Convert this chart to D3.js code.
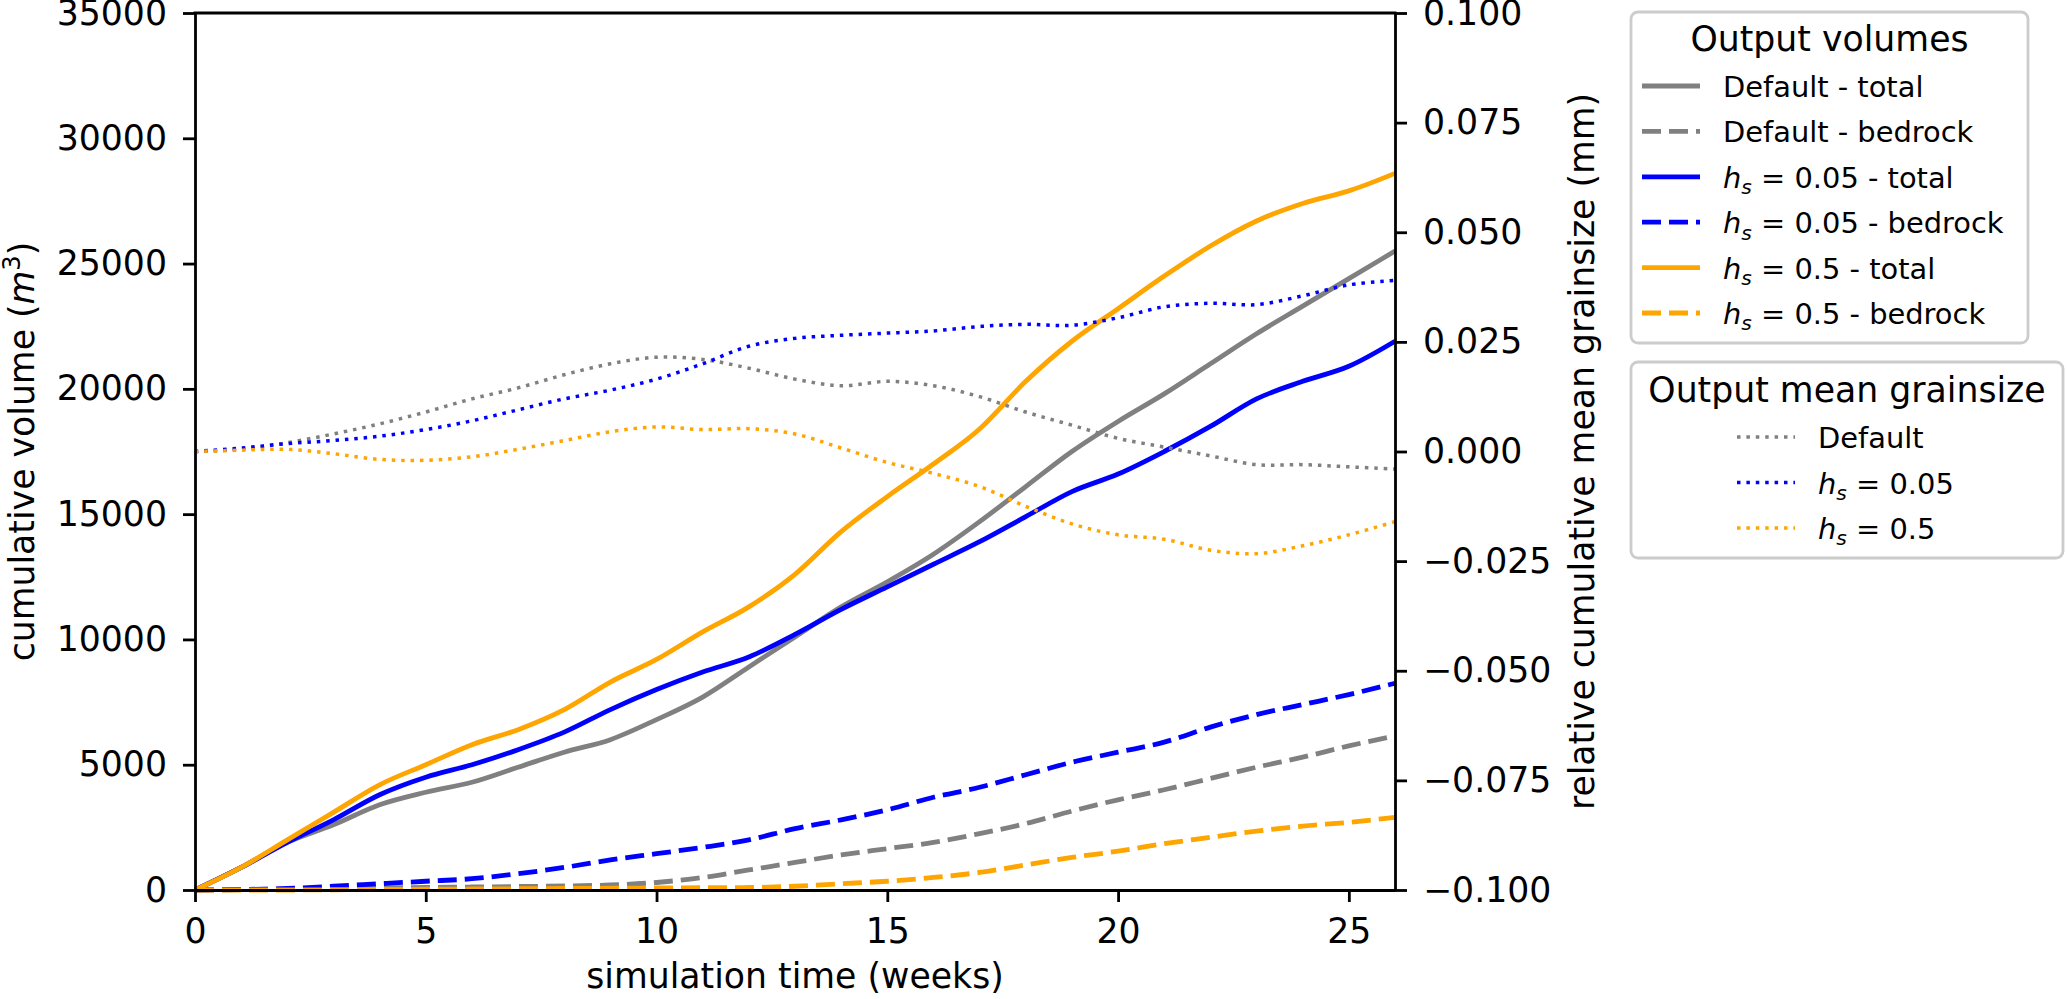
<!DOCTYPE html>
<html>
<head>
<meta charset="utf-8">
<script src="https://cdn.jsdelivr.net/npm/d3@7"></script>
<style>
  body { margin: 0; background: #fff; }
  svg { font-family: "DejaVu Sans", sans-serif; }
  text, tspan { white-space: pre; }
</style>
</head>
<body>
<svg id="canvas" width="2067" height="999"></svg>
<script>
let weeks = [0, 1, 2, 3, 4, 5, 6, 7, 8, 9, 10, 11, 12, 13, 14, 15, 16, 17, 18, 19, 20, 21, 22, 23, 24, 25, 26]

let defaultTotal = [0, 900, 1900, 2600, 3400, 3900, 4300, 4900, 5500, 6000, 6800, 7700, 8900, 10100, 11300, 12300, 13400, 14700, 16100, 17500, 18700, 19800, 21000, 22200, 23300, 24400, 25500]
let defaultBedrock = [0, 20, 40, 60, 80, 100, 120, 140, 160, 200, 300, 500, 800, 1100, 1400, 1650, 1900, 2250, 2650, 3150, 3600, 4000, 4450, 4900, 5300, 5750, 6150]
let hs005Total = [0, 900, 1900, 2800, 3800, 4500, 5000, 5600, 6300, 7200, 8000, 8700, 9300, 10200, 11200, 12100, 13000, 13900, 14900, 15900, 16600, 17500, 18500, 19600, 20300, 20900, 21900]
let hs005Bedrock = [0, 20, 60, 150, 250, 350, 450, 650, 900, 1200, 1450, 1700, 2000, 2450, 2800, 3200, 3700, 4100, 4600, 5100, 5500, 5900, 6500, 7000, 7400, 7800, 8250]
let hs05Total = [0, 900, 2000, 3100, 4200, 5000, 5800, 6400, 7200, 8300, 9200, 10300, 11300, 12600, 14300, 15700, 17000, 18400, 20300, 21900, 23200, 24500, 25700, 26700, 27400, 27900, 28600]
let hs05Bedrock = [0, 0, 0, 10, 20, 30, 40, 50, 60, 70, 80, 90, 100, 150, 250, 350, 500, 700, 1000, 1300, 1550, 1850, 2100, 2350, 2550, 2700, 2900]

let defaultGrain = [0, 0.0005, 0.002, 0.004, 0.0063, 0.009, 0.012, 0.0145, 0.0175, 0.020, 0.0215, 0.021, 0.019, 0.0165, 0.015, 0.016, 0.015, 0.0125, 0.009, 0.006, 0.003, 0.001, -0.001, -0.003, -0.003, -0.0035, -0.004]
let hs005Grain = [0, 0.0008, 0.0018, 0.0025, 0.0035, 0.005, 0.007, 0.0095, 0.012, 0.014, 0.0165, 0.020, 0.024, 0.0258, 0.0265, 0.027, 0.0275, 0.0285, 0.029, 0.0288, 0.0305, 0.033, 0.0338, 0.0335, 0.0355, 0.038, 0.039]
let hs05Grain = [0, 0.0003, 0.0005, -0.0005, -0.0018, -0.002, -0.0012, 0.0005, 0.0025, 0.0045, 0.0056, 0.005, 0.0052, 0.004, 0.0008, -0.0025, -0.005, -0.008, -0.0125, -0.0165, -0.019, -0.020, -0.0225, -0.0233, -0.0215, -0.019, -0.016]

let volumeLabels = ['Default - total', 'Default - bedrock', 'h_s = 0.05 - total', 'h_s = 0.05 - bedrock', 'h_s = 0.5 - total', 'h_s = 0.5 - bedrock']
let grainLabels = ['Default', 'h_s = 0.05', 'h_s = 0.5']

let xTicks = [0, 5, 10, 15, 20, 25]
let volumeTicks = [0, 5000, 10000, 15000, 20000, 25000, 30000, 35000]
let grainTicks = [-0.1, -0.075, -0.05, -0.025, 0, 0.025, 0.05, 0.075, 0.1]

let volumeData = [defaultTotal, defaultBedrock, hs005Total, hs005Bedrock, hs05Total, hs05Bedrock]
let grainData = [defaultGrain, hs005Grain, hs05Grain]

// styles
let volumeColors = ['grey', 'grey', 'blue', 'blue', 'orange', 'orange']
let volumeDash = [null, '19,8', null, '19,8', null, '19,8']
let grainColors = ['grey', 'blue', 'orange']
let grainDash = '3.5,5.9'

let fontSize = 34.7
let legendSize = 28.9
let spine = 2.8

let canvas = d3.select('#canvas')

let plotLeft = 195, plotRight = 1395, plotTop = 13, plotBottom = 890

let xScale = d3.scaleLinear().domain([0, 26]).range([plotLeft, plotRight])
let yScale = d3.scaleLinear().domain([0, 35000]).range([plotBottom, plotTop])
let y2Scale = d3.scaleLinear().domain([-0.1, 0.1]).range([plotBottom, plotTop])

let volumeLine = d3.line()
    .x((d, i) => xScale(weeks[i]))
    .y((d) => yScale(d))
    .curve(d3.curveMonotoneX)

let grainLine = d3.line()
    .x((d, i) => xScale(weeks[i]))
    .y((d) => y2Scale(d))
    .curve(d3.curveCatmullRom)

canvas.append('g')
    .selectAll('path')
    .data(volumeData)
    .enter()
    .append('path')
    .attr('d', (d) => volumeLine(d))
    .attr('fill', 'none')
    .attr('stroke', (d, i) => volumeColors[i])
    .attr('stroke-width', 4.8)
    .attr('stroke-dasharray', (d, i) => volumeDash[i])

canvas.append('g')
    .selectAll('path')
    .data(grainData)
    .enter()
    .append('path')
    .attr('d', (d) => grainLine(d))
    .attr('fill', 'none')
    .attr('stroke', (d, i) => grainColors[i])
    .attr('stroke-width', 3.5)
    .attr('stroke-dasharray', grainDash)

let styleAxis = (g) => {
    g.attr('font-size', fontSize).attr('font-family', '"DejaVu Sans", sans-serif')
    g.selectAll('line').attr('stroke-width', spine)
    g.select('.domain').attr('stroke-width', spine)
}

canvas.append('g')
    .attr('transform', 'translate(0,' + plotBottom + ')')
    .call(d3.axisBottom(xScale).tickValues(xTicks).tickSize(12).tickPadding(16).tickSizeOuter(0).tickFormat(d3.format('d')))
    .call(styleAxis)

canvas.append('g')
    .attr('transform', 'translate(' + plotLeft + ',0)')
    .call(d3.axisLeft(yScale).tickValues(volumeTicks).tickSize(12).tickPadding(16).tickSizeOuter(0).tickFormat(d3.format('d')))
    .call(styleAxis)

canvas.append('g')
    .attr('transform', 'translate(' + plotRight + ',0)')
    .call(d3.axisRight(y2Scale).tickValues(grainTicks).tickSize(12).tickPadding(16).tickSizeOuter(0).tickFormat(d3.format('.3f')))
    .call(styleAxis)

canvas.append('line')
    .attr('x1', plotLeft - spine / 2).attr('x2', plotRight + spine / 2)
    .attr('y1', plotTop).attr('y2', plotTop)
    .attr('stroke', 'black').attr('stroke-width', spine)

// axis labels
canvas.append('text')
    .attr('x', (plotLeft + plotRight) / 2)
    .attr('y', 988)
    .attr('text-anchor', 'middle')
    .attr('font-size', fontSize)
    .text('simulation time (weeks)')

let yLabel = canvas.append('text')
    .attr('transform', 'translate(34,' + (plotTop + plotBottom) / 2 + ') rotate(-90)')
    .attr('text-anchor', 'middle')
    .attr('font-size', fontSize)
yLabel.append('tspan').text('cumulative volume (')
yLabel.append('tspan').attr('font-style', 'italic').text('m')
yLabel.append('tspan').attr('font-size', fontSize * 0.7).attr('dy', -fontSize * 0.4).text('3')
yLabel.append('tspan').attr('dy', fontSize * 0.4).text(')')

canvas.append('text')
    .attr('transform', 'translate(1594,' + (plotTop + plotBottom) / 2 + ') rotate(-90)')
    .attr('text-anchor', 'middle')
    .attr('font-size', fontSize)
    .text('relative cumulative mean grainsize (mm)')

// legend labels with h_s
let writeLabel = (textSel, label, size) => {
    if (label.startsWith('h_s')) {
        textSel.append('tspan').attr('font-style', 'italic').text('h')
        textSel.append('tspan').attr('font-style', 'italic').attr('font-size', size * 0.7).attr('dy', size * 0.22).text('s')
        textSel.append('tspan').attr('dy', -size * 0.22).text(label.slice(3))
    } else {
        textSel.text(label)
    }
}

let drawLegend = (box, title, labels, colors, dashes, widths) => {
    let g = canvas.append('g')
    g.append('rect')
        .attr('x', box.x).attr('y', box.y)
        .attr('width', box.w).attr('height', box.h)
        .attr('rx', 7)
        .attr('fill', 'white').attr('fill-opacity', 0.8)
        .attr('stroke', '#cccccc').attr('stroke-width', spine)
    g.append('text')
        .attr('x', box.titleX).attr('y', box.titleY)
        .attr('text-anchor', 'middle')
        .attr('font-size', fontSize)
        .text(title)
    labels.forEach((label, i) => {
        let cy = box.rowY + i * box.rowStep
        g.append('line')
            .attr('x1', box.handleX).attr('x2', box.handleX + 58)
            .attr('y1', cy).attr('y2', cy)
            .attr('stroke', colors[i])
            .attr('stroke-width', widths[i])
            .attr('stroke-dasharray', dashes[i])
        let t = g.append('text')
            .attr('x', box.handleX + 81).attr('y', cy + 11)
            .attr('font-size', legendSize)
        writeLabel(t, label, legendSize)
    })
}

drawLegend({x: 1631, y: 12, w: 397, h: 331, titleX: 1829.5, titleY: 51, rowY: 86, rowStep: 45.4, handleX: 1642},
    'Output volumes', volumeLabels, volumeColors, volumeDash, volumeLabels.map(() => 4.8))

drawLegend({x: 1631, y: 362, w: 432, h: 196, titleX: 1847, titleY: 402, rowY: 437, rowStep: 45.5, handleX: 1737},
    'Output mean grainsize', grainLabels, grainColors, grainLabels.map(() => grainDash), grainLabels.map(() => 3.5))
</script>
</body>
</html>
